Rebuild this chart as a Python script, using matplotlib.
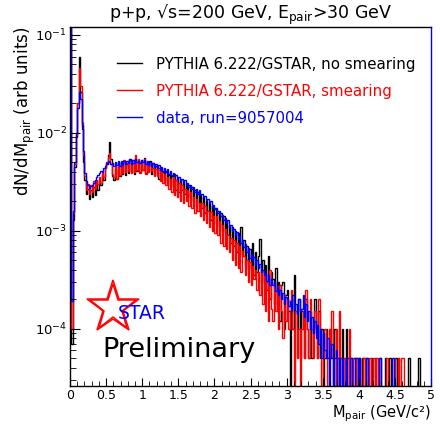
import numpy as np
import matplotlib
matplotlib.use("Agg")
import matplotlib.pyplot as plt
from matplotlib.lines import Line2D
from matplotlib.ticker import MultipleLocator, FuncFormatter, NullFormatter, LogLocator

# M_pair binning: 250 bins of 20 MeV between 0 and 5 GeV/c^2
edges = np.linspace(0.0, 5.0, 251)
UNIT = 1e-3  # all values below are given in units of 1e-3

# PYTHIA 6.222/GSTAR, no smearing
nosmear = [
    300, 0.07, 1.3, 4.5, 9.0, 20, 60, 26, 11, 5.0,
    3.3, 2.4, 2.7, 2.1, 2.6, 2.2, 2.8, 2.3, 3.0, 2.6,
    3.2, 2.9, 3.7, 3.3, 4.4, 4.8, 6.0, 8.0, 5.4, 3.6,
    3.3, 4.3, 3.4, 4.6, 3.6, 4.9, 3.8, 5.1, 3.7, 4.8,
    3.9, 5.3, 4.0, 4.9, 3.8, 5.4, 4.1, 5.0, 4.0, 5.3,
    4.2, 5.5, 3.9, 5.0, 4.1, 5.1, 3.8, 4.9, 3.7, 4.6,
    4.4, 3.4, 4.5, 3.3, 4.0, 3.1, 4.1, 3.2, 3.7, 2.9,
    3.6, 2.8, 3.8, 2.6, 3.4, 2.5, 3.3, 2.6, 3.1, 2.4,
    3.0, 2.2, 2.9, 2.0, 2.8, 2.1, 2.6, 1.8, 2.5, 1.9,
    2.3, 1.7, 2.2, 1.5, 2.0, 1.6, 1.9, 1.3, 1.8, 1.4,
    1.7, 1.2, 1.6, 1.1, 1.5, 1.0, 1.4, 0.95, 1.25, 0.9,
    1.15, 0.75, 1.1, 0.7, 1.0, 0.6, 0.95, 0.58, 1.1, 0.55,
    0.8, 0.45, 0.7, 0.4, 0.65, 0.42, 0.75, 0.35, 0.6, 0.38,
    0.55, 0.82, 0.3, 0.5, 0.28, 0.45, 0.25, 0.55, 0.2, 0.38,
    0.32, 0.18, 0.42, 0.15, 0.3, 0.12, 0.28, 0.3, 0.1, 0.22,
    0.25, 0.15, 0, 0.2, 0.1, 0.35, 0.15, 0.1, 0.2, 0.05,
    0.15, 0.1, 0.05, 0.2, 0.1, 0.05, 0.15, 0.05, 0.1, 0.2,
    0.1, 0.05, 0.15, 0.05, 0.1, 0, 0.05, 0.1, 0.05, 0.05,
    0.1, 0.05, 0, 0.1, 0.05, 0.05, 0, 0.05, 0.1, 0,
    0.05, 0.1, 0.05, 0, 0.05, 0, 0.05, 0.05, 0, 0.05,
    0.05, 0, 0.05, 0.05, 0, 0.05, 0, 0, 0.05, 0,
    0, 0.05, 0, 0, 0.05, 0, 0, 0, 0.05, 0,
    0, 0.05, 0, 0, 0, 0.05, 0, 0.05, 0, 0,
    0, 0, 0, 0, 0.05, 0, 0, 0, 0, 0,
    0, 0.05, 0, 0, 0, 0, 0, 0, 0, 0,
]

# PYTHIA 6.222/GSTAR, smearing
smear = [
    300, 0.1, 1.5, 4.8, 9.5, 20, 46, 30, 13, 6.0,
    3.6, 2.6, 3.0, 2.4, 2.9, 2.5, 3.2, 2.7, 3.3, 3.0,
    3.5, 3.1, 3.9, 3.5, 4.4, 5.0, 5.6, 6.2, 4.8, 3.8,
    3.5, 4.6, 3.4, 4.9, 3.7, 5.0, 3.9, 5.3, 4.0, 4.9,
    4.1, 5.4, 3.9, 5.3, 4.0, 6.0, 4.2, 5.4, 3.9, 5.2,
    4.2, 5.4, 3.8, 5.0, 4.0, 4.8, 4.1, 4.4, 3.6, 4.3,
    3.6, 4.4, 3.2, 4.0, 3.1, 3.8, 2.9, 3.5, 2.7, 3.4,
    2.5, 3.5, 2.3, 3.3, 2.2, 3.1, 2.0, 2.9, 1.9, 2.7,
    2.0, 2.6, 1.8, 2.5, 1.7, 2.2, 1.5, 2.1, 1.6, 1.9,
    1.4, 1.9, 1.3, 1.8, 1.2, 1.6, 1.1, 1.55, 1.0, 1.4,
    0.95, 1.4, 0.9, 1.25, 0.75, 1.15, 0.7, 1.05, 0.65, 0.9,
    0.6, 0.85, 0.5, 0.8, 0.45, 0.75, 0.42, 0.7, 0.38, 0.62,
    0.55, 0.35, 0.5, 0.3, 0.48, 0.28, 0.44, 0.32, 0.4, 0.25,
    0.38, 0.22, 0.4, 0.18, 0.35, 0.15, 0.3, 0.12, 0.4, 0.16,
    0.12, 0.3, 0.15, 0.25, 0.1, 0.28, 0.15, 0.08, 0.22, 0.12,
    0.2, 0.1, 0.15, 0.25, 0.1, 0, 0.15, 0.05, 0.1, 0,
    0.1, 0.15, 0.05, 0.25, 0.1, 0.05, 0.2, 0.1, 0.05, 0.15,
    0.1, 0.05, 0.2, 0.1, 0, 0.05, 0.1, 0.05, 0, 0.1,
    0.05, 0.15, 0.05, 0, 0.1, 0, 0.15, 0.05, 0, 0.05,
    0, 0.05, 0, 0.1, 0, 0.05, 0, 0, 0.05, 0,
    0.05, 0, 0, 0.05, 0, 0, 0, 0.05, 0, 0,
    0.05, 0, 0.05, 0, 0, 0, 0, 0, 0, 0.05,
    0, 0, 0, 0, 0.05, 0, 0, 0.05, 0, 0.05,
    0.05, 0, 0, 0, 0, 0, 0, 0, 0, 0,
    0, 0, 0, 0, 0, 0, 0, 0, 0, 0,
]

# data, run=9057004
data_run = [
    400, 0.19, 1.6, 5.0, 10.0, 18.0, 26.0, 22.0, 12.0, 6.5,
    3.9, 3.2, 2.9, 2.75, 2.85, 2.9, 3.1, 3.3, 3.5, 3.7,
    3.9, 4.1, 4.0, 4.4, 4.6, 4.9, 5.1, 5.0, 4.8, 4.9,
    4.6, 5.0, 4.7, 5.1, 4.6, 5.2, 4.7, 5.1, 4.8, 5.2,
    4.9, 5.4, 4.8, 5.3, 4.9, 5.4, 5.0, 5.2, 4.9, 5.3,
    5.0, 5.3, 4.8, 5.2, 4.7, 5.0, 4.6, 4.9, 4.5, 4.8,
    4.4, 4.7, 4.2, 4.5, 4.1, 4.4, 4.0, 4.3, 3.8, 4.1,
    3.7, 3.9, 3.6, 3.7, 3.4, 3.5, 3.2, 3.4, 3.1, 3.3,
    2.9, 3.1, 2.8, 2.95, 2.7, 2.8, 2.5, 2.7, 2.4, 2.6,
    2.3, 2.4, 2.2, 2.25, 2.05, 2.1, 1.9, 2.0, 1.75, 1.85,
    1.65, 1.7, 1.5, 1.6, 1.4, 1.45, 1.3, 1.35, 1.2, 1.28,
    1.1, 1.15, 1.0, 1.05, 0.9, 0.98, 0.82, 0.88, 0.75, 0.8,
    0.68, 0.74, 0.6, 0.66, 0.53, 0.58, 0.5, 0.54, 0.45, 0.5,
    0.42, 0.46, 0.38, 0.4, 0.35, 0.37, 0.31, 0.35, 0.28, 0.32,
    0.28, 0.3, 0.24, 0.27, 0.22, 0.25, 0.2, 0.23, 0.18, 0.21,
    0.2, 0.17, 0.19, 0.15, 0.22, 0.16, 0.18, 0.14, 0.2, 0.15,
    0.16, 0.22, 0.13, 0.18, 0.12, 0.15, 0.1, 0.13, 0.09, 0.12,
    0.08, 0.11, 0.07, 0.1, 0.05, 0.09, 0.06, 0.05, 0.08, 0,
    0.05, 0.07, 0, 0.05, 0.06, 0, 0.05, 0, 0.05, 0,
    0, 0.05, 0, 0, 0.05, 0, 0, 0.05, 0.05, 0,
    0.05, 0, 0, 0, 0, 0.05, 0, 0, 0, 0,
    0, 0, 0, 0, 0.05, 0, 0, 0, 0, 0,
    0, 0, 0, 0.05, 0, 0, 0, 0, 0, 0,
    0, 0, 0, 0, 0, 0, 0, 0, 0, 0,
    0, 0, 0, 0, 0, 0, 0, 0, 0, 0,
]

series = [
    (nosmear, "black", "PYTHIA 6.222/GSTAR, no smearing"),
    (smear, "red", "PYTHIA 6.222/GSTAR, smearing"),
    (data_run, "blue", "data, run=9057004"),
]

plt.rcParams["font.family"] = ["DejaVu Sans"]
plt.rcParams["mathtext.default"] = "regular"

fig = plt.figure(figsize=(4.4, 4.25), dpi=100)
ax = fig.add_axes([0.159, 0.092, 0.821, 0.844])

for vals, col, lab in series:
    ax.stairs(np.array(vals) * UNIT, edges, color=col, lw=1.0, baseline=None)

ax.set_yscale("log", nonpositive="clip")
ax.set_xlim(0, 5)
ax.set_ylim(2.6e-5, 0.12)

ax.xaxis.set_major_locator(MultipleLocator(0.5))
ax.xaxis.set_minor_locator(MultipleLocator(0.1))
ax.xaxis.set_major_formatter(FuncFormatter(lambda v, p: "%g" % v))
ax.yaxis.set_minor_locator(LogLocator(subs=np.arange(2, 10)))
ax.yaxis.set_minor_formatter(NullFormatter())

ax.tick_params(which="both", direction="in", top=False, right=False, labelsize=9.5)
ax.tick_params(axis="y", which="major", length=7, pad=2)
ax.tick_params(axis="y", which="minor", length=4)
ax.tick_params(axis="x", which="major", length=6, pad=2, labelsize=9)
ax.tick_params(axis="x", which="minor", length=3.5)
for s in ax.spines.values():
    s.set_linewidth(1.0)
ax.spines["right"].set_color("blue")

ax.set_title("p+p, √s=200 GeV, E$_{pair}$>30 GeV", fontsize=12.5, pad=6)
ax.set_ylabel("dN/dM$_{pair}$ (arb units)", fontsize=12, loc="top")
ax.yaxis.set_label_coords(-0.09, 1.0)
ax.set_xlabel("M$_{pair}$ (GeV/c²)", fontsize=10.5, loc="right")
ax.xaxis.set_label_coords(1.0, -0.05)

handles = [Line2D([], [], color=c, lw=1.0) for _, c, _ in series]
leg = ax.legend(handles, [l for _, _, l in series], loc="upper left",
                bbox_to_anchor=(0.13, 0.918), frameon=False, fontsize=10.8,
                handlelength=1.65, handletextpad=0.95, labelspacing=0.8,
                borderpad=0, borderaxespad=0)
for t, (_, c, _) in zip(leg.get_texts(), series):
    t.set_color(c)

# STAR Preliminary logo
for ms in (40, 35):
    ax.plot([0.119], [0.216], transform=ax.transAxes, marker="*", ms=ms,
            mfc="none", mec="red", mew=1.1, ls="none")
ax.text(0.133, 0.202, "STAR", transform=ax.transAxes, color="blue",
        fontsize=13.5, va="center", ha="left")
ax.text(0.089, 0.080, "Preliminary", transform=ax.transAxes, color="black",
        fontsize=19.5, va="baseline", ha="left")

fig.savefig("out.png", dpi=100)
